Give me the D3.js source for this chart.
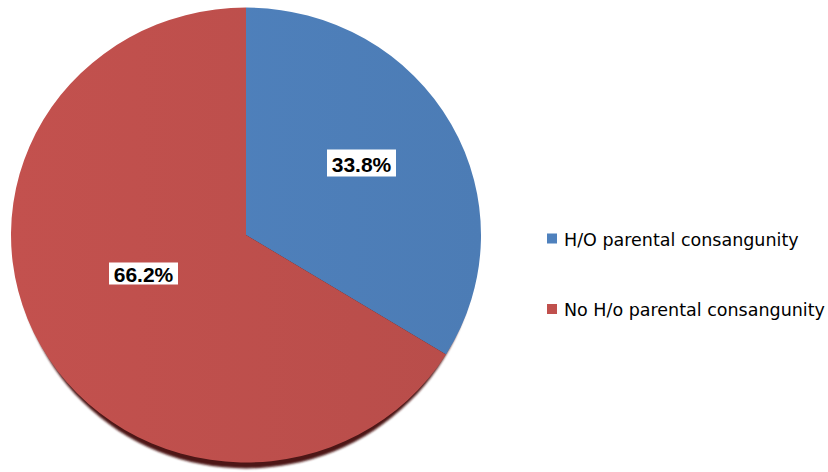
<!DOCTYPE html>
<html>
<head>
<meta charset="utf-8">
<script src="https://cdn.jsdelivr.net/npm/d3@7"></script>
<style>
  body { margin: 0; background: #fff; }
  svg { display: block; }
</style>
</head>
<body>
<div id="chart"></div>
<script>
// data
const categories = ["H/O parental consangunity", "No H/o parental consangunity"];
const values = [33.8, 66.2];
const colors = ["#4f81bd", "#c0504d"];

const width = 828, height = 472;
const cx = 246, cy = 235;
const r = 235;
const yScale = 0.968;

const svg = d3.select("#chart").append("svg")
    .attr("width", width)
    .attr("height", height);

const defs = svg.append("defs");
defs.append("filter").attr("id", "blur")
    .append("feGaussianBlur").attr("stdDeviation", 1.3);

colors.forEach((c, i) => {
    const g = defs.append("linearGradient")
        .attr("id", "grad" + i)
        .attr("gradientUnits", "userSpaceOnUse")
        .attr("x1", -r).attr("x2", r).attr("y1", 0).attr("y2", 0);
    g.append("stop").attr("offset", "0%").attr("stop-color", d3.color(c).brighter(0.05));
    g.append("stop").attr("offset", "100%").attr("stop-color", d3.color(c).darker(0.12));
});

const pie = d3.pie().sort(null).value(d => d.value);
const data = categories.map((c, i) => ({ name: c, value: values[i], i }));
const arcs = pie(data);

const arc = d3.arc().innerRadius(0).outerRadius(r);

// shadow under the pie
svg.append("ellipse")
    .attr("cx", cx)
    .attr("cy", cy + 6)
    .attr("rx", r - 4)
    .attr("ry", r * yScale)
    .attr("fill", "#4e1816")
    .attr("filter", "url(#blur)");

const g = svg.append("g")
    .attr("transform", `translate(${cx},${cy}) scale(1,${yScale})`);

g.selectAll("path")
    .data(arcs)
    .join("path")
    .attr("d", arc)
    .attr("fill", d => `url(#grad${d.data.i})`);

// labels: centre of the white box, box size
const labelPos = [[361.5, 163], [143.5, 273.5]];
const labelBox = [[69, 27], [69, 22]];
const lg = svg.append("g");
arcs.forEach((d, i) => {
    const [x, y] = labelPos[i];
    const [bw, bh] = labelBox[i];
    lg.append("rect")
        .attr("x", x - bw / 2)
        .attr("y", y - bh / 2)
        .attr("width", bw)
        .attr("height", bh)
        .attr("fill", "#fff");
    lg.append("text")
        .attr("x", x)
        .attr("y", y + 1)
        .attr("text-anchor", "middle")
        .attr("dominant-baseline", "central")
        .attr("font-family", "Liberation Sans Narrow, Arial Narrow, Liberation Sans, sans-serif")
        .attr("font-weight", "bold")
        .attr("font-size", 21)
        .attr("fill", "#000")
        .text(d.data.value.toFixed(1) + "%");
});

// legend
const legend = svg.append("g")
    .attr("transform", "translate(547,0)");
const legendY = [238.5, 309];
const item = legend.selectAll("g")
    .data(data)
    .join("g")
    .attr("transform", (d, i) => `translate(0,${legendY[i]})`);

item.append("rect")
    .attr("x", 0)
    .attr("y", -5)
    .attr("width", 10)
    .attr("height", 10)
    .attr("fill", d => colors[d.i]);

item.append("text")
    .attr("x", 17)
    .attr("y", 1)
    .attr("dominant-baseline", "central")
    .attr("font-family", "DejaVu Sans, sans-serif")
    .attr("font-size", 17.5)
    .attr("fill", "#000")
    .text(d => d.name);
</script>
</body>
</html>
